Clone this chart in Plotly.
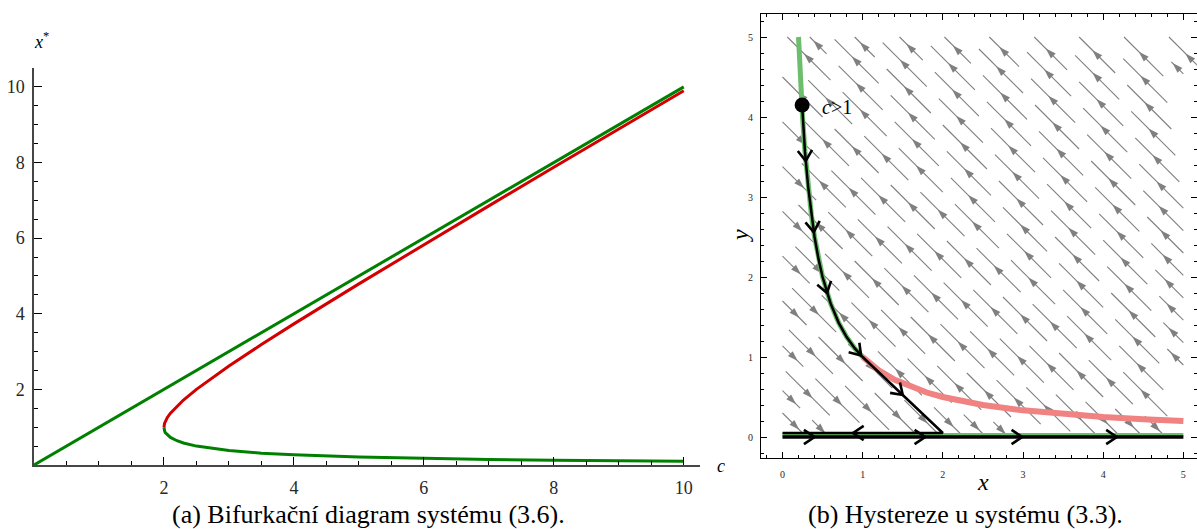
import math
import plotly.graph_objects as go

# ---------------- (a) bifurcation diagram data ----------------
diag_c = [0.0, 10.0]
diag_x = [0.0, 10.0]
branch_c = [2.0, 2.0005, 2.002, 2.01, 2.02, 2.05, 2.1, 2.2, 2.3, 2.5, 2.75, 3.0, 3.5,
            4.0, 5.0, 6.0, 7.0, 8.0, 9.0, 10.0]
upper_x = [1.0, 1.022, 1.045, 1.105, 1.142, 1.25, 1.37, 1.558, 1.718, 2.0, 2.319, 2.618,
           3.186, 3.732, 4.791, 5.828, 6.854, 7.873, 8.887, 9.899]
lower_x = [1.0, 0.978, 0.955, 0.905, 0.858, 0.80, 0.73, 0.642, 0.582, 0.5, 0.431, 0.382,
           0.314, 0.268, 0.209, 0.172, 0.146, 0.127, 0.113, 0.101]
left_ticks = [2, 4, 6, 8, 10]
left_minor_x = [0.5, 1, 1.5, 2.5, 3, 3.5, 4.5, 5, 5.5, 6.5, 7, 7.5, 8.5, 9, 9.5]
left_minor_y = [0.5, 1, 1.5, 2.5, 3, 3.5, 4.5, 5, 5.5, 6.5, 7, 7.5, 8.5, 9, 9.5, 10.5]

# ---------------- (b) hysteresis data ----------------
stable_x = [0.2, 0.22, 0.25, 0.28, 0.32, 0.36, 0.4, 0.45, 0.5, 0.6, 0.7, 0.8, 0.9, 1.0]
stable_y = [5.0, 4.55, 4.0, 3.57, 3.13, 2.78, 2.5, 2.22, 2.0, 1.67, 1.43, 1.25, 1.11, 1.0]
unstable_x = [1.0, 1.2, 1.4, 1.6, 1.8, 2.0, 2.5, 3.0, 3.5, 4.0, 4.5, 5.0]
unstable_y = [1.0, 0.833, 0.714, 0.625, 0.556, 0.5, 0.4, 0.333, 0.286, 0.25, 0.222, 0.2]
axis_stable_x = [0.0, 5.0]
axis_stable_y = [0.025, 0.025]
traj_x = [0.245, 0.255, 0.28, 0.32, 0.36, 0.4, 0.45, 0.5, 0.6, 0.7, 0.8, 0.9, 1.0, 2.0, 0.0]
traj_y = [4.15, 4.0, 3.57, 3.13, 2.78, 2.5, 2.22, 2.0, 1.67, 1.43, 1.25, 1.11, 1.0, 0.05, 0.05]
return_x = [0.0, 5.0]
return_y = [0.0, 0.0]
start_x = [0.245]
start_y = [4.15]
# chevrons on trajectory: tip point and a point just behind it (gives direction)
chev_tip_x = [0.29, 0.39, 0.555, 0.98, 1.5, 0.88, 0.40, 1.78, 2.99, 4.17]
chev_tip_y = [3.45, 2.56, 1.80, 1.02, 0.525, 0.05, 0.0, 0.0, 0.0, 0.0]
chev_tail_x = [0.275, 0.365, 0.50, 0.90, 1.3, 1.10, 0.20, 1.58, 2.79, 3.97]
chev_tail_y = [3.65, 2.78, 2.00, 1.11, 0.715, 0.05, 0.0, 0.0, 0.0, 0.0]
right_ticks = [0, 1, 2, 3, 4, 5]
right_minor = [-0.2, 0.2, 0.4, 0.6, 0.8, 1.2, 1.4, 1.6, 1.8, 2.2, 2.4, 2.6, 2.8,
               3.2, 3.4, 3.6, 3.8, 4.2, 4.4, 4.6, 4.8, 5.2]
# direction field: streamline diagonals x + y = level
stream_levels = [0.30, 0.58, 0.86, 1.14, 1.42, 1.70, 1.98, 2.26, 2.54, 2.82, 3.10, 3.38,
                 3.66, 3.94, 4.22, 4.50, 4.78, 5.06, 5.34, 5.62, 5.90, 6.18, 6.46, 6.74,
                 7.02, 7.30, 7.58, 7.86, 8.14, 8.42, 8.70, 8.98, 9.26, 9.54, 9.82]

SERIF = "Liberation Serif"
GREEN = "rgb(0,128,0)"
RED = "rgb(210,0,0)"
LGREEN = "rgb(108,190,108)"
PINK = "rgb(240,130,130)"
GREY = "rgb(128,128,128)"

fig = go.Figure()

# ---- left panel ----
fig.add_trace(go.Scatter(x=branch_c, y=upper_x, mode="lines",
                         line=dict(color=RED, width=3), xaxis="x", yaxis="y"))
fig.add_trace(go.Scatter(x=branch_c, y=lower_x, mode="lines",
                         line=dict(color=GREEN, width=3), xaxis="x", yaxis="y"))
fig.add_trace(go.Scatter(x=diag_c, y=diag_x, mode="lines",
                         line=dict(color=GREEN, width=3), xaxis="x", yaxis="y"))

# ---- right panel: direction field ----
seg_len, gap = 0.55, 0.15
sx, sy, ax_, ay_, ang = [], [], [], [], []
for i, k in enumerate(stream_levels):
    lo, hi = max(0.0, k - 5.0), min(5.0, k)
    phase = (i * 0.37) % (seg_len + gap)
    starts = []
    if phase - gap > 0.2:
        starts.append((lo, lo + phase - gap))
    s = lo + phase
    while s < hi - 0.15:
        e = min(s + seg_len, hi)
        starts.append((s, e))
        s = e + gap
    for (a, b) in starts:
        sx += [a, b, None]
        sy += [k - a, k - b, None]
        m = 0.5 * (a + b)
        if m * (k - m) > 1.0:
            ax_.append(m - 0.06)
            ay_.append(k - m + 0.06)
            ang.append(-45)
        else:
            ax_.append(m + 0.06)
            ay_.append(k - m - 0.06)
            ang.append(135)

fig.add_trace(go.Scatter(x=sx, y=sy, mode="lines", line=dict(color=GREY, width=1.1),
                         xaxis="x2", yaxis="y2"))
fig.add_trace(go.Scatter(x=ax_, y=ay_, mode="markers",
                         marker=dict(symbol="arrow", size=11, angle=ang, color=GREY,
                                     line=dict(width=0)),
                         xaxis="x2", yaxis="y2"))

fig.add_trace(go.Scatter(x=stable_x, y=stable_y, mode="lines",
                         line=dict(color=LGREEN, width=5), xaxis="x2", yaxis="y2"))
fig.add_trace(go.Scatter(x=unstable_x, y=unstable_y, mode="lines",
                         line=dict(color=PINK, width=6), xaxis="x2", yaxis="y2"))
fig.add_trace(go.Scatter(x=axis_stable_x, y=axis_stable_y, mode="lines",
                         line=dict(color=LGREEN, width=4), xaxis="x2", yaxis="y2"))
fig.add_trace(go.Scatter(x=traj_x, y=traj_y, mode="lines",
                         line=dict(color="black", width=2.5), xaxis="x2", yaxis="y2"))
fig.add_trace(go.Scatter(x=return_x, y=return_y, mode="lines",
                         line=dict(color="black", width=3.5), xaxis="x2", yaxis="y2"))

# chevrons (open arrowheads) along the trajectory
arm, half = 0.16, math.radians(34)
cx, cy = [], []
for tx, ty, bx, by in zip(chev_tip_x, chev_tip_y, chev_tail_x, chev_tail_y):
    dx, dy = bx - tx, by - ty
    n = math.hypot(dx, dy)
    dx, dy = dx / n, dy / n
    for sgn in (1, -1):
        c, s_ = math.cos(sgn * half), math.sin(sgn * half)
        ex, ey = tx + arm * (c * dx - s_ * dy), ty + arm * (s_ * dx + c * dy)
        if sgn == 1:
            cx += [ex, tx]
            cy += [ey, ty]
        else:
            cx += [ex, None]
            cy += [ey, None]
fig.add_trace(go.Scatter(x=cx, y=cy, mode="lines",
                         line=dict(color="black", width=2.6), xaxis="x2", yaxis="y2"))

fig.add_trace(go.Scatter(x=start_x, y=start_y, mode="markers",
                         marker=dict(color="black", size=15), xaxis="x2", yaxis="y2"))

annotations = [dict(x=0.47, y=4.13, xref="x2", yref="y2", text="<i>c</i>>1",
                    showarrow=False, xanchor="left", yanchor="middle",
                    font=dict(family=SERIF, size=20, color="black"))]


def paper_ann(px, py, text, size, angle=0):
    return dict(x=px / 1197, y=1 - py / 529, xref="paper", yref="paper",
                text=text, showarrow=False, xanchor="center", yanchor="middle",
                textangle=angle, font=dict(family=SERIF, size=size, color="black"))


annotations.append(paper_ann(721, 466, "<i>c</i>", 18))
annotations.append(paper_ann(41, 41, "<i>x</i><sup>*</sup>", 18))
annotations.append(paper_ann(983, 482, "<i>x</i>", 24))
annotations.append(paper_ann(740, 236, "<i>y</i>", 24, angle=-90))
annotations.append(paper_ann(368, 514, "(a) Bifurkační diagram systému (3.6).", 26))
annotations.append(paper_ann(965, 514, "(b) Hystereze u systému (3.3).", 26))

AXC = "rgb(70,70,70)"


def left_axis(domain, rng, minor_vals, standoff):
    return dict(domain=domain, range=rng, showgrid=False, zeroline=False,
                showline=True, linecolor=AXC, linewidth=1.5,
                tickmode="array", tickvals=left_ticks, ticks="inside", ticklen=8,
                tickcolor="black", tickwidth=1.2, ticklabelstandoff=standoff,
                minor=dict(tickmode="array", tickvals=minor_vals, ticks="inside",
                           ticklen=4, tickcolor="black", tickwidth=1, showgrid=False),
                tickfont=dict(family=SERIF, size=18, color="rgb(40,40,40)"))


def right_axis(domain, rng, anchor, standoff):
    return dict(domain=domain, range=rng, anchor=anchor, showgrid=False,
                zeroline=False, showline=True, mirror="allticks", linecolor="black",
                linewidth=1.2, tickmode="array", tickvals=right_ticks, ticks="inside",
                ticklen=6, tickcolor="black", tickwidth=1, ticklabelstandoff=standoff,
                minor=dict(tickmode="array", tickvals=right_minor, ticks="inside",
                           ticklen=3, tickcolor="black", tickwidth=1, showgrid=False),
                tickfont=dict(family=SERIF, size=10, color="rgb(40,40,40)"))


fig.update_layout(
    width=1197, height=529, margin=dict(l=0, r=0, t=0, b=0),
    paper_bgcolor="white", plot_bgcolor="white", showlegend=False,
    annotations=annotations,
    xaxis=left_axis([34 / 1197, 700 / 1197], [0, 10.25], left_minor_x, 6),
    yaxis=left_axis([(529 - 465) / 529, (529 - 68) / 529], [0, 10.5], left_minor_y, 4),
    xaxis2=right_axis([761 / 1197, 1.0], [-0.268, 5.17], "y2", 7),
    yaxis2=right_axis([(529 - 458) / 529, (529 - 14) / 529], [-0.2625, 5.2875], "x2", 5),
)

fig.write_html(
    "out.html",
    config={"displayModeBar": False},
    post_script="document.body.style.margin='0';document.body.style.padding='0';"
                "document.body.style.overflow='hidden';",
)
